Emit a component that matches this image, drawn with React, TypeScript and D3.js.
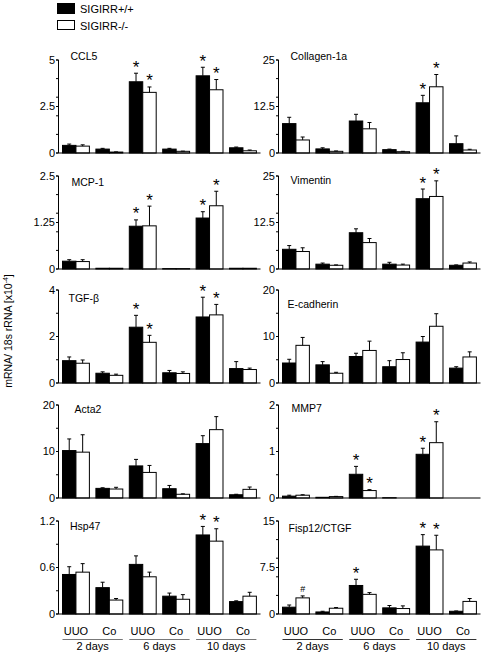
import React from "react";
import * as d3 from "d3";

// Groups: 2d UUO, 2d Co, 6d UUO, 6d Co, 10d UUO, 10d Co
const groupLabels = ["UUO", "Co", "UUO", "Co", "UUO", "Co"];
const dayLabels = ["2 days", "6 days", "10 days"];
const legendLabels = ["SIGIRR+/+", "SIGIRR-/-"];
const yAxisLabel = "mRNA/ 18s rRNA [x10";

const panelNames = ["CCL5", "Collagen-1a", "MCP-1", "Vimentin", "TGF-\u03b2", "E-cadherin", "Acta2", "MMP7", "Hsp47", "Fisp12/CTGF"];
const panelMax = [5, 25, 2.5, 25, 4, 20, 20, 2, 1.2, 15];
const panelTickLabels = [
  ["0", "2.5", "5"], ["0", "12.5", "25"], ["0", "1.25", "2.5"], ["0", "12.5", "25"], ["0", "2", "4"],
  ["0", "10", "20"], ["0", "10", "20"], ["0", "1", "2"], ["0", "0.6", "1.2"], ["0", "7.5", "15"],
];
const panelMinorStep = [1, 5, 0.5, 5, 1, 5, 5, 0.5, 0.3, 3];

const wtMean = [
  [0.41, 0.21, 3.83, 0.21, 4.15, 0.28],
  [7.9, 1.1, 8.6, 0.9, 13.5, 2.5],
  [0.21, 0.02, 1.15, 0.01, 1.37, 0.02],
  [5.3, 1.3, 9.75, 1.3, 18.9, 1.0],
  [0.96, 0.42, 2.4, 0.44, 2.84, 0.62],
  [4.3, 3.9, 5.7, 3.5, 8.8, 3.2],
  [10.2, 2.07, 6.9, 2.0, 11.7, 0.7],
  [0.04, 0.015, 0.51, 0.006, 0.94, 0],
  [0.51, 0.34, 0.64, 0.23, 1.02, 0.16],
  [1.1, 0.33, 4.6, 0.99, 10.95, 0.44],
];
const wtSem = [
  [0.07, 0.04, 0.46, 0.04, 0.46, 0.04],
  [1.7, 0.3, 1.8, 0.15, 2.0, 2.1],
  [0.04, 0, 0.17, 0, 0.17, 0],
  [1.0, 0.3, 1.05, 0.5, 2.6, 0.1],
  [0.16, 0.06, 0.51, 0.1, 0.85, 0.3],
  [0.8, 0.7, 0.7, 1.3, 1.2, 0.3],
  [2.5, 0.13, 1.4, 0.7, 1.7, 0.1],
  [0.02, 0, 0.17, 0, 0.13, 0],
  [0.1, 0.07, 0.11, 0.04, 0.11, 0.01],
  [0.35, 0.11, 1.0, 0.38, 1.85, 0.05],
];
const koMean = [
  [0.37, 0.05, 3.26, 0.09, 3.4, 0.12],
  [3.5, 0.45, 6.5, 0.35, 17.8, 0.8],
  [0.2, 0.02, 1.16, 0.01, 1.7, 0.02],
  [4.7, 1.0, 7.1, 1.06, 19.5, 1.6],
  [0.85, 0.33, 1.75, 0.41, 2.93, 0.58],
  [8.1, 2.1, 7.0, 5.05, 12.2, 5.6],
  [9.86, 1.93, 5.5, 0.8, 14.7, 1.86],
  [0.06, 0.03, 0.16, 0, 1.19, 0],
  [0.54, 0.18, 0.48, 0.19, 0.94, 0.23],
  [2.6, 0.93, 3.17, 0.88, 10.34, 2.03],
];
const koSem = [
  [0.07, 0.01, 0.29, 0.01, 0.55, 0.04],
  [0.8, 0.1, 1.7, 0.1, 3.3, 0.2],
  [0.05, 0, 0.53, 0, 0.39, 0],
  [1.0, 0.1, 1.1, 0.25, 4.2, 0.3],
  [0.14, 0.05, 0.3, 0.07, 0.45, 0.06],
  [1.7, 0.2, 2.0, 1.45, 2.7, 1.1],
  [3.74, 0.37, 1.5, 0.1, 2.8, 0.5],
  [0.01, 0.005, 0.02, 0, 0.45, 0],
  [0.11, 0.02, 0.06, 0.06, 0.16, 0.05],
  [0.32, 0.11, 0.28, 0.43, 2.36, 0.47],
];
const wtStars = [[2, 4], [4], [2, 4], [4], [2, 4], [], [], [2, 4], [4], [2, 4]];
const koStars = [[2, 4], [4], [2, 4], [4], [2, 4], [], [], [2, 4], [4], [4]];
const koHash = [[], [], [], [], [], [], [], [], [], [0]];

// layout
const rowTops = [60, 176, 290, 405, 521];
const panelH = 93;
const colAxisX = [58.5, 278.5];
const titleDx = [12, 12, 13, 12, 10, 9, 16, 13, 11.5, 10];
const titleBase = [60, 60, 186, 184, 302, 308, 413, 412, 530, 532];
const FONT = "Liberation Sans, Arial, Helvetica, sans-serif";

function Panel({ i }: { i: number }) {
  const col = i % 2;
  const row = Math.floor(i / 2);
  const ax = colAxisX[col];
  const top = rowTops[row];
  const bottom = top + panelH;
  const y = d3.scaleLinear().domain([0, panelMax[i]]).range([bottom, top]);
  const x = d3.scaleBand<number>().domain(d3.range(6)).range([ax + 4, ax + 4 + 6 * 33.4 - 6.5]).paddingInner(0.195).paddingOuter(0);
  const bw = x.bandwidth() / 2;
  const minor = d3.range(0, panelMax[i] + 1e-9, panelMinorStep[i]);
  const labelVals = [0, panelMax[i] / 2, panelMax[i]];
  const axisEnd = ax + 202;
  const bars: any[] = [];
  const series = [
    { mean: wtMean[i], sem: wtSem[i], fill: "#000", stars: wtStars[i], hash: [] as number[], off: 0 },
    { mean: koMean[i], sem: koSem[i], fill: "#fff", stars: koStars[i], hash: koHash[i], off: 1 },
  ];
  series.forEach((s, si) => {
    s.mean.forEach((v, g) => {
      const bx = (x(g) as number) + s.off * bw;
      const cx = bx + bw / 2;
      const errTop = y(v + s.sem[g]);
      if (v > 0) {
        bars.push(
          <rect key={`b${si}-${g}`} x={bx} y={y(v)} width={bw} height={Math.max(0, bottom - y(v))}
            fill={s.fill} stroke="#000" strokeWidth={1} />
        );
      }
      if (s.sem[g] > 0) {
        bars.push(
          <g key={`e${si}-${g}`} stroke="#000" strokeWidth={1}>
            <line x1={cx} x2={cx} y1={y(v)} y2={errTop} />
            <line x1={cx - 2} x2={cx + 2} y1={errTop} y2={errTop} />
          </g>
        );
      }
      if (s.stars.includes(g)) {
        bars.push(
          <text key={`s${si}-${g}`} x={cx} y={errTop - 0.5} fontSize={17} textAnchor="middle" fontFamily={FONT}>*</text>
        );
      }
      if (s.hash.includes(g)) {
        bars.push(
          <text key={`h${si}-${g}`} x={cx} y={errTop - 3.5} fontSize={9} textAnchor="middle" fontFamily={FONT}>#</text>
        );
      }
    });
  });
  return (
    <g>
      <text x={ax + titleDx[i]} y={titleBase[i]} fontSize={10.5} fontFamily={FONT}>{panelNames[i]}</text>
      {bars}
      <line x1={ax} x2={ax} y1={top} y2={bottom} stroke="#000" />
      <line x1={ax} x2={axisEnd} y1={bottom} y2={bottom} stroke="#000" />
      {minor.map((t, k) => (
        <line key={`m${k}`} x1={ax - 2.5} x2={ax} y1={y(t)} y2={y(t)} stroke="#000" />
      ))}
      {labelVals.map((t, k) => (
        <g key={`t${k}`}>
          <line x1={ax - 2.5} x2={ax} y1={y(t)} y2={y(t)} stroke="#000" />
          <text x={ax - 3.5} y={y(t)} dy="0.35em" textAnchor="end" fontSize={11} fontFamily={FONT}>{panelTickLabels[i][k]}</text>
        </g>
      ))}
      {row === 4 && (
        <g>
          {groupLabels.map((l, g) => (
            <text key={`gl${g}`} x={(x(g) as number) + x.bandwidth() / 2} y={635} fontSize={11} textAnchor="middle" fontFamily={FONT}>{l}</text>
          ))}
          {dayLabels.map((l, d) => {
            const x0 = x(2 * d) as number;
            const x1 = (x(2 * d + 1) as number) + x.bandwidth();
            return (
              <g key={`d${d}`}>
                <line x1={x0} x2={x1} y1={639.5} y2={639.5} stroke={col === 0 ? "#777" : "#333"} strokeWidth={1} />
                <text x={(x0 + x1) / 2} y={650} fontSize={11} textAnchor="middle" fontFamily={FONT}>{l}</text>
              </g>
            );
          })}
        </g>
      )}
    </g>
  );
}

export default function App() {
  return (
    <svg width={483} height={655} style={{ position: "absolute", left: 0, top: 0, background: "#fff" }}>
      <rect x={0} y={0} width={483} height={655} fill="#fff" />
      <rect x={57.5} y={3.5} width={17} height={10} fill="#000" stroke="#000" />
      <text x={80} y={12.5} fontSize={11} fontFamily={FONT}>{legendLabels[0]}</text>
      <rect x={57.5} y={20.5} width={17} height={9} fill="#fff" stroke="#000" />
      <text x={80} y={29.5} fontSize={11} fontFamily={FONT}>{legendLabels[1]}</text>
      <text transform="translate(12,331) rotate(-90)" fontSize={10.5} textAnchor="middle" fontFamily={FONT}>
        {yAxisLabel}
        <tspan dy={-4} fontSize={7}>-4</tspan>
        <tspan dy={4}>]</tspan>
      </text>
      {d3.range(10).map((i) => <Panel key={i} i={i} />)}
    </svg>
  );
}
